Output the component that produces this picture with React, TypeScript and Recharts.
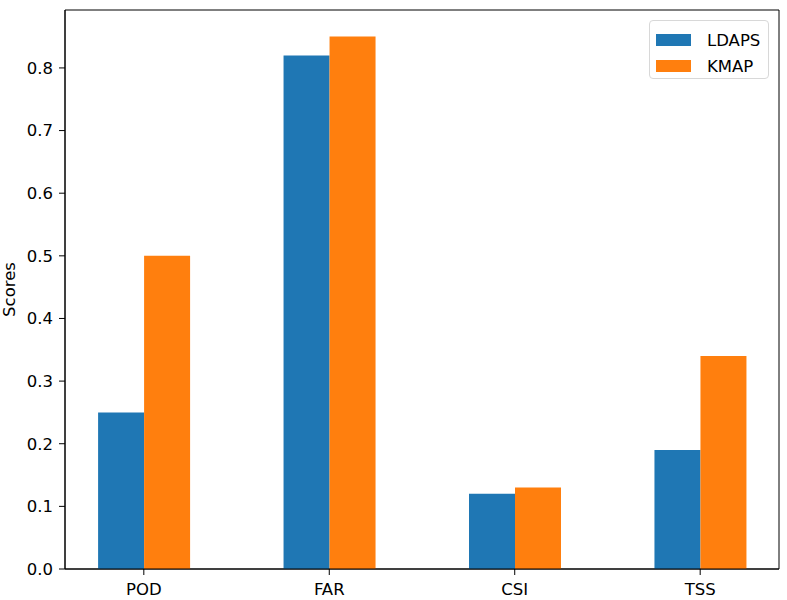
import React from 'react'
import { BarChart, Bar, XAxis, YAxis, ReferenceArea } from 'recharts'

const categories = ['POD', 'FAR', 'CSI', 'TSS']
const ldaps = [0.25, 0.82, 0.12, 0.19]
const kmap = [0.5, 0.85, 0.13, 0.34]
const yTicks = [0, 0.1, 0.2, 0.3, 0.4, 0.5, 0.6, 0.7, 0.8]
const series = [
  { key: 'LDAPS', color: '#1f77b4' },
  { key: 'KMAP', color: '#ff7f0e' },
]

const data = categories.map((name, i) => ({ x: i, name, LDAPS: ldaps[i], KMAP: kmap[i] }))

const FONT = 'DejaVu Sans, sans-serif'
const FS = 16.5

// matplotlib-style legend box, top right inside the axes
function LegendBox() {
  return (
    <div
      style={{
        position: 'absolute',
        left: 649,
        top: 20,
        width: 120,
        height: 59,
        boxSizing: 'border-box',
        border: '1px solid #d8d8d8',
        borderRadius: 4,
        background: 'rgba(255,255,255,0.8)',
        padding: '6px 0 0 6px',
        fontFamily: FONT,
        fontSize: FS,
        color: '#000',
      }}
    >
      {series.map((s) => (
        <div key={s.key} style={{ display: 'flex', alignItems: 'center', height: 26 }}>
          <span style={{ display: 'inline-block', width: 35, height: 12, background: s.color, marginRight: 16 }} />
          <span>{s.key}</span>
        </div>
      ))}
    </div>
  )
}

export default function App() {
  return (
    <div style={{ position: 'absolute', left: 0, top: 0, width: 787, height: 600, background: '#fff' }}>
      <BarChart
        width={787}
        height={600}
        data={data}
        margin={{ top: 10, right: 8, bottom: 1, left: 20 }}
        barGap={0}
      >
        <XAxis
          dataKey="x"
          type="number"
          domain={[-0.425, 3.425]}
          ticks={[0, 1, 2, 3]}
          tickFormatter={(v: number) => categories[v]}
          allowDataOverflow
          height={30}
          tickSize={6}
          tickMargin={8}
          stroke="#000"
          tick={{ fill: '#000', fontSize: FS, fontFamily: FONT }}
        />
        <YAxis
          domain={[0, 0.8925]}
          ticks={yTicks}
          allowDataOverflow
          width={45}
          tickSize={6}
          tickMargin={6}
          stroke="#000"
          tickFormatter={(v: number) => v.toFixed(1)}
          tick={{ fill: '#000', fontSize: FS, fontFamily: FONT }}
          label={{
            value: 'Scores',
            angle: -90,
            position: 'insideLeft',
            offset: -11,
            style: { fill: '#000', fontSize: FS, fontFamily: FONT, textAnchor: 'middle' },
          }}
        />
        {series.map((s) => (
          <Bar key={s.key} dataKey={s.key} fill={s.color} barSize={46} isAnimationActive={false} />
        ))}
        <ReferenceArea
          x1={-0.425}
          x2={3.425}
          y1={0}
          y2={0.8925}
          fill="none"
          fillOpacity={0}
          stroke="#000"
          strokeWidth={1}
        />
      </BarChart>
      <LegendBox />
    </div>
  )
}
